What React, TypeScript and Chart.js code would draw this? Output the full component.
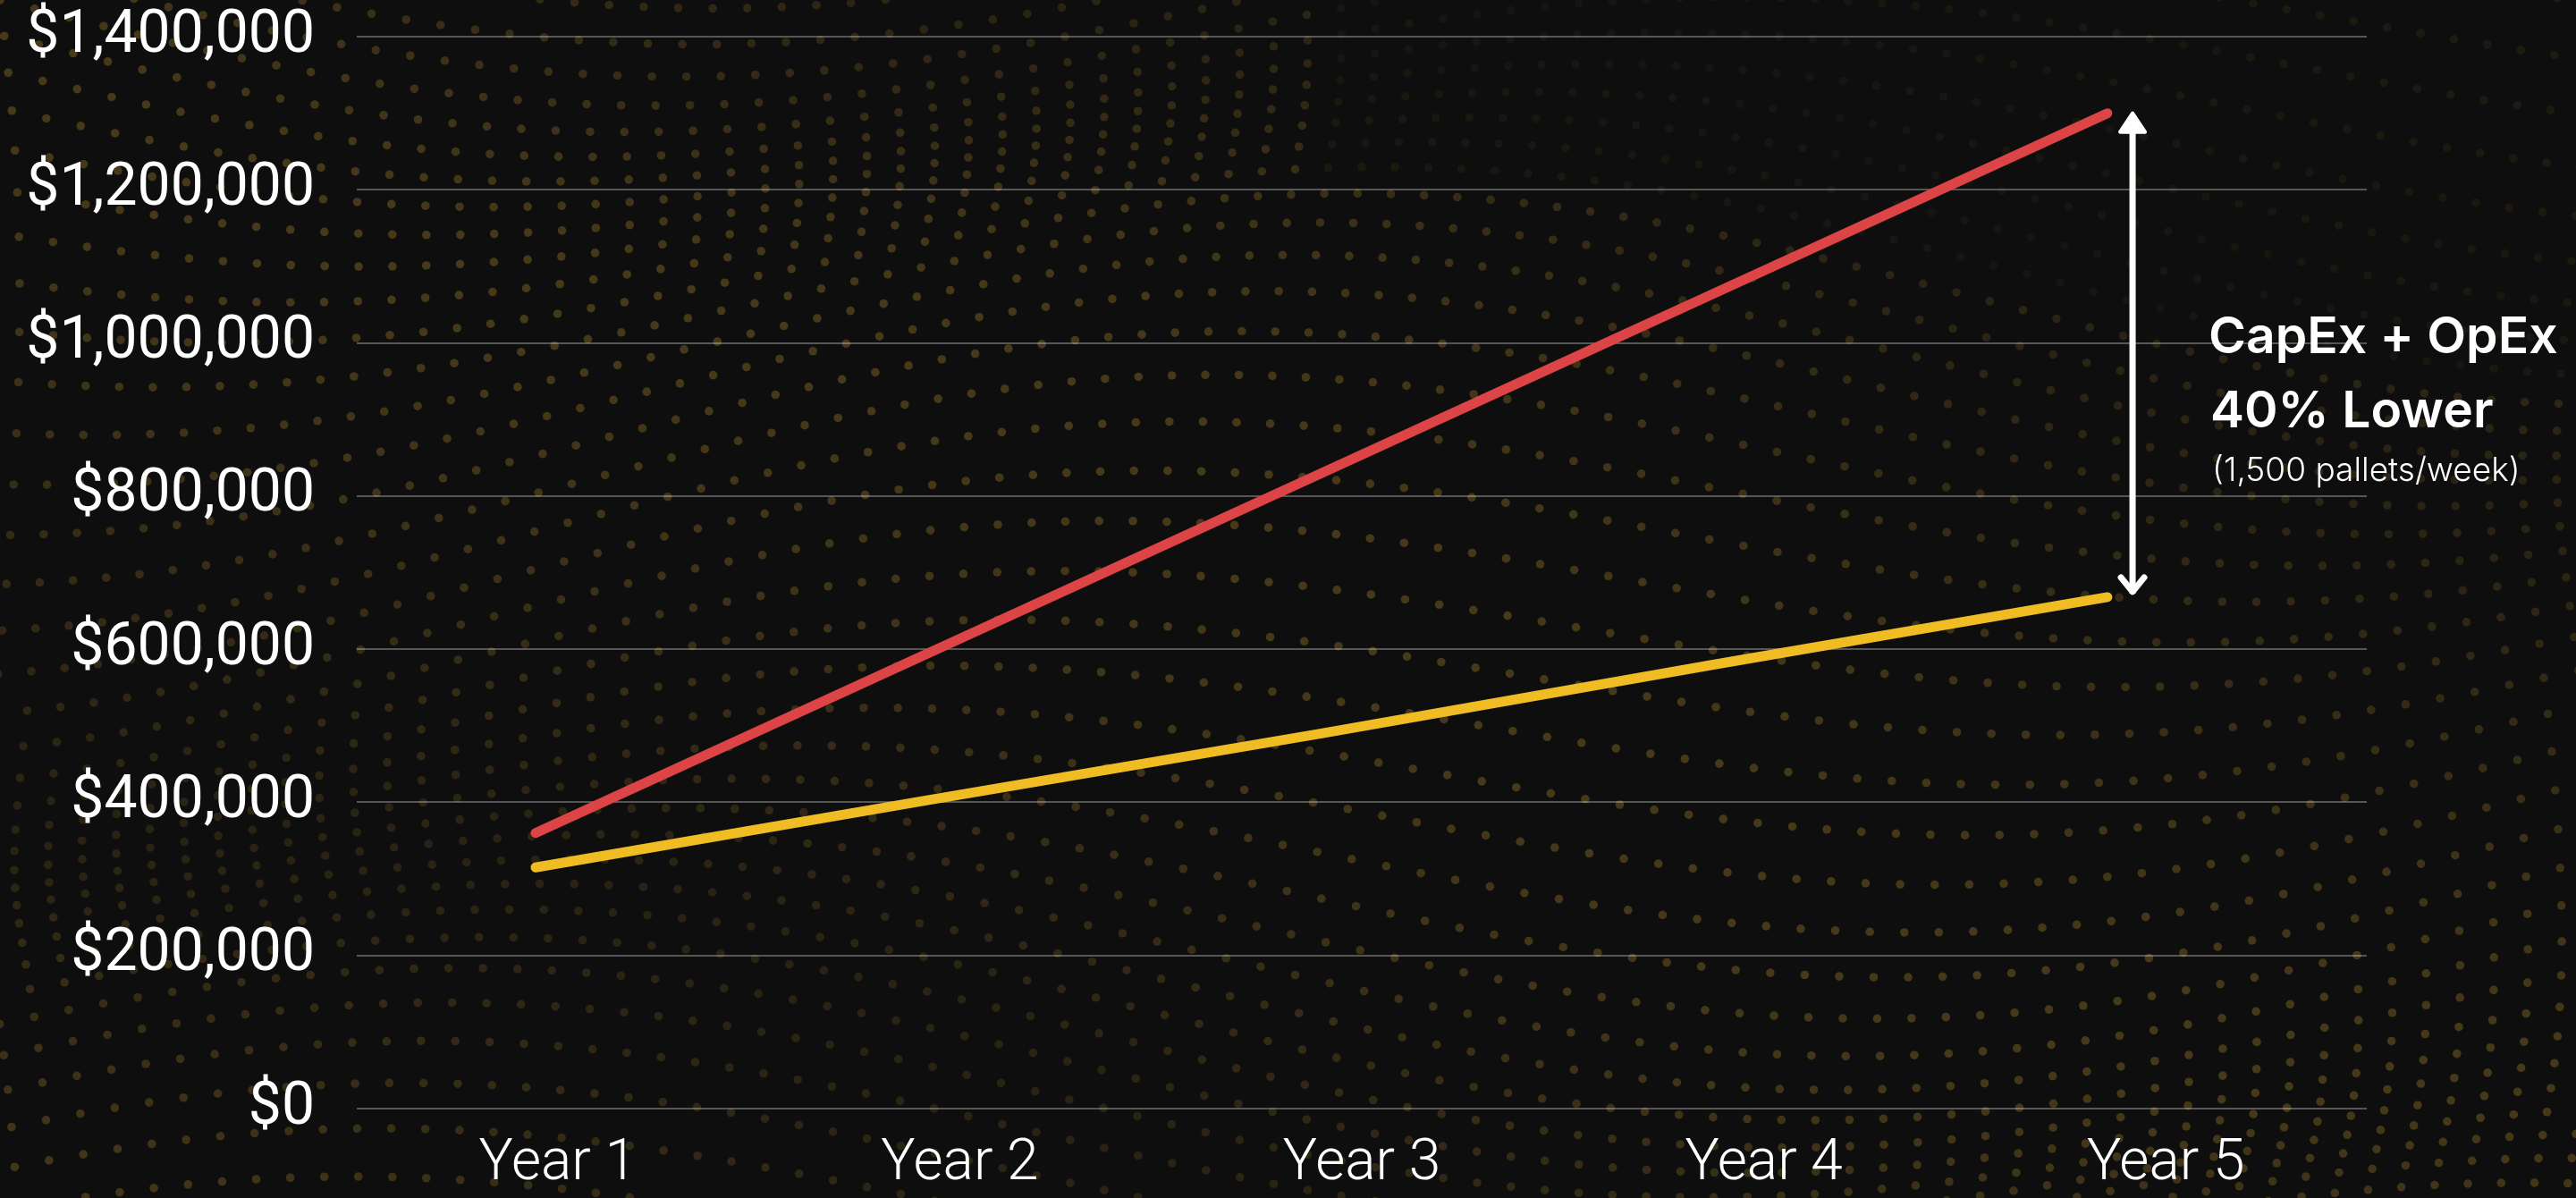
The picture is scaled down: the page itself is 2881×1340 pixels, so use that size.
import React, { useEffect, useRef } from "react";
import { Chart, registerables } from "chart.js";

Chart.register(...registerables);

// ---- Data ----
const yearLabels: string[] = ["Year 1", "Year 2", "Year 3", "Year 4", "Year 5"];
const redSeries: number[] = [360000, 595000, 830000, 1065000, 1300000];
const yellowSeries: number[] = [315000, 403000, 490000, 580000, 668000];
const yMin = 0;
const yMax = 1400000;
const yStep = 200000;
const annotationLines: string[] = ["CapEx + OpEx", "40% Lower", "(1,500 pallets/week)"];

const W = 2881;
const H = 1340;
const BG = "#0e0e0e";

const backgroundPlugin = {
  id: "dotBackground",
  beforeDraw(chart: any) {
    const ctx = chart.ctx as CanvasRenderingContext2D;
    ctx.save();
    ctx.fillStyle = BG;
    ctx.fillRect(0, 0, chart.width, chart.height);
    const cols = 76;
    const rows = 32;
    for (let j = -5; j < rows + 5; j++) {
      for (let i = 0; i <= cols; i++) {
        const u = i / cols;
        const v = j / rows;
        const x = u * W + 22 * Math.sin(2 * Math.PI * (v * 1.1 + u * 0.4));
        const y =
          v * H +
          90 * Math.sin(2 * Math.PI * (u * 1.1 + v * 0.6)) +
          45 * Math.sin(2 * Math.PI * (u * 0.45 - v * 1.4));
        const fade = 0.5 + 0.5 * Math.sin(2 * Math.PI * (u * 0.8 - v * 0.9 + 0.3));
        let a = 0.16 + 0.16 * fade;
        if (u > 0.5 && v < 0.22) a *= 0.35;
        ctx.fillStyle = `rgba(190,150,50,${a.toFixed(3)})`;
        ctx.beginPath();
        ctx.arc(x, y, 4.8, 0, Math.PI * 2);
        ctx.fill();
      }
    }
    ctx.restore();
  },
};

const annotationPlugin = {
  id: "gapAnnotation",
  afterDatasetsDraw(chart: any) {
    const ctx = chart.ctx as CanvasRenderingContext2D;
    const xs = chart.scales.xData;
    const ys = chart.scales.y;
    const last = redSeries.length - 1;
    const ax = xs.getPixelForValue(last + 0.064);
    const yTop = ys.getPixelForValue(redSeries[last]);
    const yBot = ys.getPixelForValue(yellowSeries[last]);
    ctx.save();
    ctx.strokeStyle = "#ffffff";
    ctx.fillStyle = "#ffffff";
    ctx.lineWidth = 7;
    ctx.lineCap = "butt";
    ctx.beginPath();
    ctx.moveTo(ax, yTop + 20);
    ctx.lineTo(ax, yBot - 4);
    ctx.stroke();
    // top arrowhead (filled triangle)
    ctx.lineJoin = "round";
    ctx.lineWidth = 4;
    ctx.beginPath();
    ctx.moveTo(ax, yTop);
    ctx.lineTo(ax - 14, yTop + 21);
    ctx.lineTo(ax + 14, yTop + 21);
    ctx.closePath();
    ctx.fill();
    ctx.stroke();
    // bottom arrowhead (chevron)
    ctx.lineWidth = 7;
    ctx.lineCap = "round";
    ctx.lineJoin = "round";
    ctx.beginPath();
    ctx.moveTo(ax - 13, yBot - 22);
    ctx.lineTo(ax, yBot - 6);
    ctx.lineTo(ax + 13, yBot - 22);
    ctx.stroke();

    // text
    const tx = chart.chartArea.right - 177;
    ctx.textAlign = "left";
    ctx.textBaseline = "alphabetic";
    ctx.font = "600 57px Inter";
    ctx.fillText(annotationLines[0], tx, 395);
    ctx.fillText(annotationLines[1], tx + 2, 478);
    ctx.font = "300 37px Inter";
    ctx.fillText(annotationLines[2], tx + 4, 538);
    ctx.restore();
  },
};

export default function App() {
  const canvasRef = useRef<HTMLCanvasElement | null>(null);

  useEffect(() => {
    const canvas = canvasRef.current;
    if (!canvas) return;
    const toPoints = (arr: number[]) => arr.map((v, i) => ({ x: i, y: v }));
    const chart = new Chart(canvas, {
      type: "line",
      data: {
        labels: yearLabels,
        datasets: [
          {
            label: "Conventional",
            data: toPoints(redSeries) as any,
            xAxisID: "xData",
            borderColor: "#dc4445",
            borderWidth: 11,
            borderCapStyle: "round",
            pointRadius: 0,
            tension: 0,
          },
          {
            label: "Alternative",
            data: toPoints(yellowSeries) as any,
            xAxisID: "xData",
            borderColor: "#f0bc24",
            borderWidth: 11,
            borderCapStyle: "round",
            pointRadius: 0,
            tension: 0,
          },
        ],
      },
      options: {
        animation: false,
        responsive: false,
        devicePixelRatio: 1,
        layout: { padding: { top: 41, right: 234, left: 0, bottom: 0 } },
        plugins: { legend: { display: false }, tooltip: { enabled: false } },
        scales: {
          x: {
            type: "category",
            labels: yearLabels,
            offset: true,
            grid: { display: false, drawTicks: false },
            border: { display: false },
            ticks: {
              color: "#ffffff",
              font: { family: "Roboto", weight: "300", size: 64 },
              padding: 25,
              maxRotation: 0,
            },
            afterFit: (s: any) => {
              s.height = 100;
              s.paddingLeft = 0;
              s.paddingRight = 0;
            },
          },
          xData: {
            type: "linear",
            display: false,
            min: -0.455,
            max: 4.66,
          },
          y: {
            min: yMin,
            max: yMax,
            ticks: {
              stepSize: yStep,
              color: "#ffffff",
              font: { family: "Roboto", weight: "400", size: 66 },
              padding: 47,
              callback: (v: any) => "$" + Number(v).toLocaleString("en-US"),
            },
            grid: { color: "rgba(255,255,255,0.3)", lineWidth: 2, drawTicks: false },
            border: { display: false },
            afterFit: (s: any) => {
              s.width = 399;
              s.paddingTop = 0;
              s.paddingBottom = 0;
            },
          },
        },
      },
      plugins: [backgroundPlugin, annotationPlugin],
    });
    let alive = true;
    if ((document as any).fonts && (document as any).fonts.ready) {
      (document as any).fonts.ready.then(() => {
        if (alive) chart.update("none");
      });
    }
    return () => {
      alive = false;
      chart.destroy();
    };
  }, []);

  return (
    <div
      style={{
        position: "fixed",
        left: 0,
        top: 0,
        width: W,
        height: H,
        background: BG,
        overflow: "hidden",
      }}
    >
      <canvas ref={canvasRef} width={W} height={H} style={{ display: "block" }} />
    </div>
  );
}
